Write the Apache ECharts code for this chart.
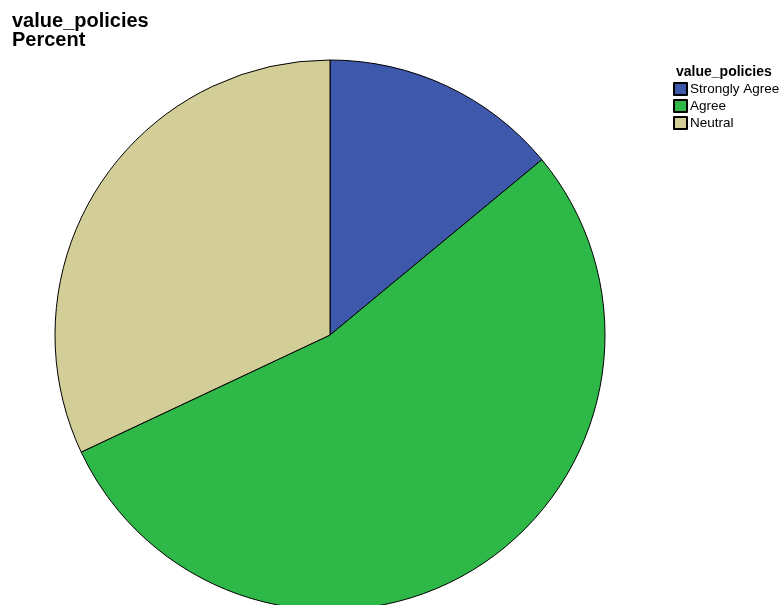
<!DOCTYPE html>
<html>
<head>
<meta charset="utf-8">
<script src="https://cdn.jsdelivr.net/npm/echarts@6/dist/echarts.min.js"></script>
<style>
  html, body { margin: 0; padding: 0; background: #fff; }
  #chart { width: 783px; height: 605px; }
</style>
</head>
<body>
<div id="chart"></div>
<script>
const categories = ["Strongly Agree", "Agree", "Neutral"]
const percents = [14, 54, 32]
const colors = ["#3e58ac", "#2eb848", "#d3ce97"]

const chart = echarts.init(document.getElementById("chart"))

const option = {
  animation: false,
  title: [
    {
      text: "value_policies\nPercent",
      left: 7,
      top: 7,
      textStyle: {
        fontFamily: "Liberation Sans, Arial",
        fontSize: 20,
        fontWeight: "bold",
        color: "#000",
        lineHeight: 19
      }
    },
    {
      text: "value_policies",
      left: 671,
      top: 60,
      textStyle: {
        fontFamily: "Liberation Sans, Arial",
        fontSize: 14,
        fontWeight: "bold",
        color: "#000"
      }
    }
  ],
  legend: {
    orient: "vertical",
    left: 668,
    top: 77,
    icon: "rect",
    itemWidth: 13,
    itemHeight: 12,
    itemGap: 3,
    textStyle: {
      fontFamily: "Liberation Sans, Arial",
      fontSize: 13.5,
      color: "#000",
      padding: [0, 0, 0, -2]
    },
    data: categories
  },
  series: [
    {
      type: "pie",
      center: [330, 335],
      radius: 275,
      startAngle: 90,
      clockwise: true,
      label: { show: false },
      labelLine: { show: false },
      emphasis: { disabled: true },
      itemStyle: { borderColor: "#000", borderWidth: 1 },
      data: categories.map((name, i) => ({
        name: name,
        value: percents[i],
        itemStyle: { color: colors[i] }
      }))
    }
  ]
}

chart.setOption(option)
</script>
</body>
</html>
